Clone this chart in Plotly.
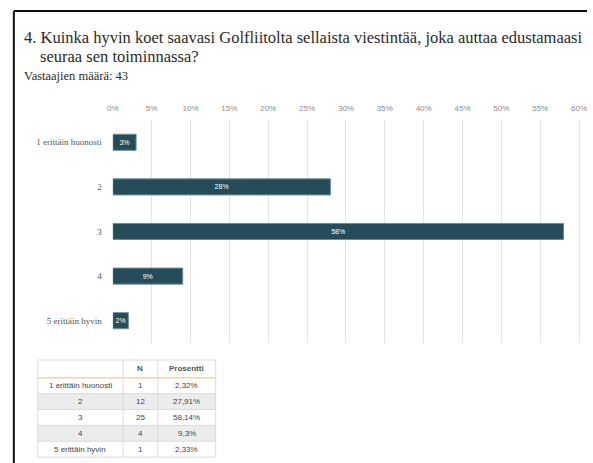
import plotly.graph_objects as go

# Survey answers, question 4
categories = ["1 erittäin huonosti", "2", "3", "4", "5 erittäin hyvin"]
bar_percent = [3, 28, 58, 9, 2]          # rounded shares shown on the bars
counts = [1, 12, 25, 4, 1]
percent_text = ["2,32%", "27,91%", "58,14%", "9,3%", "2,33%"]
table_header = ["", "N", "Prosentti"]
x_ticks = list(range(0, 61, 5))

W, H = 593, 463
BAR = "#244c59"
SERIF = "Liberation Serif, Times New Roman, serif"
SANS = "Liberation Sans, Arial, sans-serif"


def px(x):
    return x / W


def py(y):
    return 1 - y / H


fig = go.Figure()

fig.add_trace(go.Bar(
    y=categories,
    x=bar_percent,
    orientation="h",
    marker=dict(color=BAR, line=dict(color="#6f8c96", width=1)),
    width=0.36,
    text=[f"{v}%" for v in bar_percent],
    textposition="inside",
    insidetextanchor="middle",
    textangle=0,
    constraintext="none",
    textfont=dict(family=SANS, size=7, color="white"),
    hoverinfo="skip",
))

shapes = []
annotations = []

# frame lines along the top and left edges
shapes.append(dict(type="line", xref="paper", yref="paper",
                   x0=px(8), x1=1, y0=py(11), y1=py(11),
                   line=dict(color="#111111", width=2)))
shapes.append(dict(type="line", xref="paper", yref="paper",
                   x0=px(8), x1=px(8), y0=py(11), y1=0,
                   line=dict(color="#111111", width=2)))

# ---- frequency table (drawn with paper-space shapes and text) ----
col_edges = [32.5, 119.5, 155, 214]
header_top, header_h, row_h = 360, 17.7, 15.9
row_tops = [header_top + header_h + i * row_h for i in range(len(categories))]
table_bottom = row_tops[-1] + row_h
grid = "#dcdcdc"

for i, top in enumerate(row_tops):
    shapes.append(dict(type="rect", xref="paper", yref="paper",
                       x0=px(col_edges[0]), x1=px(col_edges[-1]),
                       y0=py(top + row_h), y1=py(top),
                       fillcolor="#ececec" if i % 2 else "white",
                       line=dict(width=0), layer="below"))
for y in [header_top] + row_tops + [table_bottom]:
    shapes.append(dict(type="line", xref="paper", yref="paper",
                       x0=px(col_edges[0]), x1=px(col_edges[-1]),
                       y0=py(y), y1=py(y), line=dict(color=grid, width=1)))
for x in col_edges:
    shapes.append(dict(type="line", xref="paper", yref="paper",
                       x0=px(x), x1=px(x), y0=py(header_top), y1=py(table_bottom),
                       line=dict(color=grid, width=1)))
# header underline
shapes.append(dict(type="line", xref="paper", yref="paper",
                   x0=px(col_edges[0] + 0.5), x1=px(col_edges[-1] - 0.5),
                   y0=py(row_tops[0]), y1=py(row_tops[0]),
                   line=dict(color="#efd9a3", width=1.5)))

centers = [(col_edges[j] + col_edges[j + 1]) / 2 for j in range(3)]
for j, label in enumerate(table_header):
    if label:
        annotations.append(dict(text=f"<b>{label}</b>", xref="paper", yref="paper",
                                x=px(centers[j]), y=py(header_top + header_h / 2),
                                xanchor="center", yanchor="middle", showarrow=False,
                                font=dict(family=SANS, size=8, color="#555555")))
columns = [categories, [str(c) for c in counts], percent_text]
for j, col in enumerate(columns):
    for i, val in enumerate(col):
        annotations.append(dict(text=val, xref="paper", yref="paper",
                                x=px(centers[j]), y=py(row_tops[i] + row_h / 2),
                                xanchor="center", yanchor="middle", showarrow=False,
                                font=dict(family=SANS, size=8, color="#444444")))

# ---- heading texts ----
annotations.append(dict(
    text="4. Kuinka hyvin koet saavasi Golfliitolta sellaista viestintää, joka auttaa edustamaasi",
    xref="paper", yref="paper", x=px(16), y=py(37), xanchor="left", yanchor="middle",
    showarrow=False, font=dict(family=SERIF, size=16.5, color="#2a2a2a")))
annotations.append(dict(
    text="seuraa sen toiminnassa?",
    xref="paper", yref="paper", x=px(33), y=py(56), xanchor="left", yanchor="middle",
    showarrow=False, font=dict(family=SERIF, size=16.5, color="#2a2a2a")))
annotations.append(dict(
    text="Vastaajien määrä: 43",
    xref="paper", yref="paper", x=px(16), y=py(76), xanchor="left", yanchor="middle",
    showarrow=False, font=dict(family=SERIF, size=12.5, color="#2a2a2a")))

fig.update_layout(
    width=W, height=H,
    margin=dict(l=0, r=0, t=0, b=0),
    paper_bgcolor="white",
    plot_bgcolor="white",
    showlegend=False,
    shapes=shapes,
    annotations=annotations,
    xaxis=dict(
        domain=[px(109), px(586.5)],
        side="top",
        range=[0, 60.2],
        tickvals=x_ticks,
        ticktext=[f"{v}%" for v in x_ticks],
        showgrid=True, gridcolor="#e4e4e4", gridwidth=1,
        zeroline=False, showline=False,
        ticklabelstandoff=6,
        tickfont=dict(family=SANS, size=8, color="#8a8a8a"),
        fixedrange=True,
    ),
    yaxis=dict(
        domain=[py(343), py(120)],
        range=[4.5, -0.5],
        type="category",
        showgrid=False, zeroline=False, showline=False,
        ticklabelstandoff=10,
        tickfont=dict(family=SERIF, size=9, color="#555555"),
        fixedrange=True,
    ),
)

fig.write_html("out.html")
